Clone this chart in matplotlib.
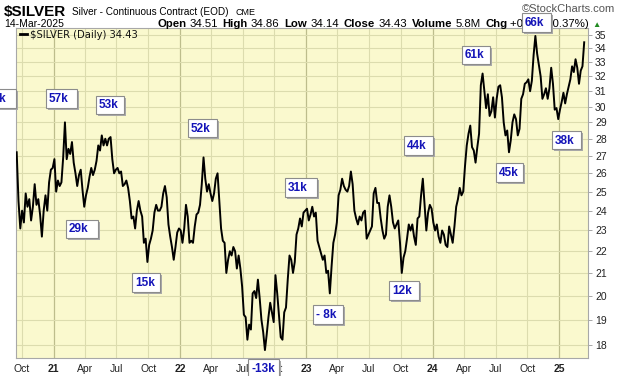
import pandas as pd
import numpy as np
import matplotlib.pyplot as plt
import matplotlib.patches as mpatches
import matplotlib.ticker as mticker
from matplotlib.lines import Line2D

# Silver continuous contract, ~6 readings per month
silver_2020 = [
    27.2, 24.5, 23.1,                      # Sep (2nd half)
    24.0, 23.4, 24.9, 24.2, 24.6, 23.5,    # Oct
    24.2, 25.4, 24.3, 24.6, 23.8, 22.7,    # Nov
    24.0, 24.8, 24.0, 25.5, 26.2, 26.3,    # Dec
]
silver_2021 = [
    26.8, 25.0, 25.6, 25.3, 25.5, 26.9,
    29.0, 26.8, 27.4, 27.1, 27.8, 26.6,
    26.0, 25.3, 25.9, 26.2, 25.1, 24.2,
    24.8, 25.2, 25.8, 26.3, 25.9, 26.2,
    26.7, 27.6, 27.3, 28.2, 27.6, 28.0,
    27.6, 28.0, 28.1, 26.8, 26.0, 26.2,
    26.3, 26.0, 26.1, 25.3, 25.4, 25.6,
    25.2, 24.5, 23.6, 23.7, 23.1, 24.0,
    24.5, 24.0, 23.7, 22.4, 22.6, 21.5,
    22.3, 22.6, 23.0, 23.9, 24.3, 24.0,
    24.0, 24.2, 24.9, 25.3, 24.7, 23.3,
    22.7, 22.2, 21.6, 22.2, 22.9, 23.1,
]
silver_2022 = [
    23.0, 22.4, 23.1, 24.3, 23.7, 22.4,
    22.5, 22.4, 23.2, 23.8, 23.9, 24.3,
    25.4, 26.9, 25.7, 25.0, 25.4, 24.9,
    24.5, 24.9, 25.7, 26.0, 24.5, 23.1,
    22.5, 22.4, 21.0, 21.6, 22.0, 21.8,
    22.2, 22.0, 21.2, 21.8, 21.2, 20.4,
    19.2, 19.1, 18.2, 18.8, 18.6, 20.1,
    20.2, 19.9, 20.7, 19.9, 19.0, 18.5,
    17.8, 18.4, 19.1, 19.7, 19.3, 18.9,
    20.9, 20.1, 19.2, 18.3, 18.2, 19.3,
    19.5, 20.7, 21.8, 21.6, 21.0, 21.5,
    22.8, 23.1, 23.6, 23.2, 23.9, 24.0,
]
silver_2023 = [
    24.1, 23.5, 23.8, 24.2, 23.7, 23.9,
    22.5, 22.2, 21.9, 21.6, 21.8, 21.0,
    21.1, 20.1, 21.3, 22.4, 22.8, 23.4,
    24.8, 25.1, 25.7, 25.3, 25.1, 25.0,
    25.3, 26.1, 25.4, 24.0, 23.6, 23.3,
    23.7, 23.5, 23.9, 24.0, 22.6, 22.8,
    23.0, 23.2, 24.9, 25.2, 24.4, 24.4,
    23.6, 23.0, 22.6, 22.8, 24.2, 24.8,
    24.2, 23.4, 23.1, 23.3, 23.5, 22.4,
    21.0, 21.7, 22.0, 22.6, 23.3, 23.0,
    23.3, 22.7, 22.3, 23.6, 23.7, 24.8,
    25.7, 24.3, 23.0, 23.9, 24.3, 24.1,
]
silver_2024 = [
    23.4, 23.0, 23.3, 22.7, 22.4, 23.0,
    22.8, 22.3, 22.2, 23.2, 22.8, 22.4,
    23.2, 24.2, 24.6, 25.2, 24.8, 25.0,
    26.4, 27.6, 28.3, 28.8, 27.5, 27.3,
    26.6, 27.5, 28.3, 31.4, 32.2, 31.0,
    29.9, 30.8, 29.4, 29.7, 30.6, 29.3,
    30.5, 31.3, 31.4, 30.6, 29.0, 28.2,
    28.5, 27.2, 27.9, 29.0, 29.5, 29.2,
    28.2, 28.6, 30.5, 30.8, 31.5, 31.6,
    31.8, 31.0, 31.7, 33.5, 34.9, 33.6,
    32.8, 32.0, 30.5, 30.8, 31.2, 30.5,
    31.2, 32.6, 31.5, 29.8, 29.9, 29.2,
]
silver_2025 = [
    29.8, 30.3, 30.9, 30.2, 30.8, 31.3,
    31.8, 32.7, 32.3, 33.2, 32.6, 31.5,
    32.4, 32.7, 34.43,                     # Mar (to the 14th)
]

quarter_labels = ['Oct', '21', 'Apr', 'Jul', 'Oct', '22', 'Apr', 'Jul', 'Oct', '23',
                  'Apr', 'Jul', 'Oct', '24', 'Apr', 'Jul', 'Oct', '25']
price_ticks = list(range(18, 36))

note_labels = ['60k', '57k', '53k', '29k', '15k', '52k', '31k', '- 8k', '-13k',
               '12k', '44k', '61k', '45k', '66k', '38k']
# box left, top, width, height in pixels
note_boxes = [(-16, 89, 32, 19), (46, 89, 31, 19), (96, 96, 28, 18), (66, 220, 32, 18),
              (132, 273, 28, 19), (188, 119, 29, 18), (285, 178, 32, 19), (313, 305, 30, 19),
              (248, 359, 31, 18), (389, 281, 30, 19), (404, 136, 29, 19), (462, 46, 28, 18),
              (496, 163, 27, 19), (522, 13, 29, 19), (552, 131, 29, 18)]

# build dates for each year's readings
spans = [(silver_2020, '2020-09-16', '2020-12-29'), (silver_2021, '2021-01-03', '2021-12-29'),
         (silver_2022, '2022-01-03', '2022-12-29'), (silver_2023, '2023-01-03', '2023-12-29'),
         (silver_2024, '2024-01-03', '2024-12-29'), (silver_2025, '2025-01-03', '2025-03-14')]
dates = []
prices = []
for vals, start, end in spans:
    dates.extend(pd.date_range(start, end, periods=len(vals)))
    prices.extend(vals)

W, H = 620, 376
fig = plt.figure(figsize=(W / 100, H / 100), dpi=100)
fig.patch.set_facecolor('white')
plt.rcParams['font.family'] = ['Liberation Sans', 'DejaVu Sans']


def px(x, y):
    return x / W, 1 - y / H


ax = fig.add_axes([16 / W, 1 - 358 / H, (588 - 16) / W, (358 - 28) / H])
ax.set_facecolor('#FAF9CE')

# grid
quarters = pd.date_range('2020-10-01', '2025-01-01', freq='QS')
for q in quarters:
    if q.month == 1:
        ax.axvline(q, color='#BDBD8C', lw=0.9, zorder=1)
    else:
        ax.axvline(q, color='#DCDCAE', lw=0.8, zorder=1)
for p in price_ticks:
    ax.axhline(p, color='#DCDCAE', lw=0.8, zorder=1)

ax.plot(dates, prices, color='black', lw=1.4, zorder=3)

ax.set_yscale('log')
ax.set_ylim(17.5, 35.5)
ax.set_xlim(pd.Timestamp('2020-09-14'), pd.Timestamp('2025-03-25'))
ax.yaxis.tick_right()
ax.yaxis.set_major_locator(mticker.FixedLocator(price_ticks))
ax.yaxis.set_major_formatter(mticker.FixedFormatter([str(p) for p in price_ticks]))
ax.yaxis.set_minor_locator(mticker.NullLocator())
ax.tick_params(axis='y', labelsize=7.5, colors='#222222', length=3, width=0.6, pad=2)
ax.tick_params(axis='y', color='#999999')

ax.set_xticks(quarters)
ax.set_xticklabels(quarter_labels)
ax.tick_params(axis='x', labelsize=7.5, colors='#222222', length=0, pad=4)
for lbl in ax.get_xticklabels():
    if lbl.get_text().isdigit():
        lbl.set_fontweight('bold')

for s in ax.spines.values():
    s.set_color('#A8A8A8')
    s.set_linewidth(0.8)

# legend inside plot
fig.add_artist(Line2D([20 / W, 27 / W], [1 - 34 / H, 1 - 34 / H], color='black', lw=2))
fig.text(*px(30, 37.5), '$SILVER (Daily) 34.43', fontsize=7.2, family='DejaVu Sans',
         color='#111111', va='baseline')

# header
fig.text(*px(4, 16), '$SILVER', fontsize=11, fontweight='bold', va='baseline')
fig.text(*px(72, 15), 'Silver - Continuous Contract (EOD)', fontsize=7.2, va='baseline')
fig.text(*px(236, 15), 'CME', fontsize=6.5, va='baseline')
fig.text(*px(615, 12), '\u00a9StockCharts.com', fontsize=8, color='#555555', ha='right',
         va='baseline')
fig.text(*px(4, 27), '14-Mar-2025', fontsize=7.5, va='baseline')

pieces = [('Open', True), ('34.51', False), ('High', True), ('34.86', False),
          ('Low', True), ('34.14', False), ('Close', True), ('34.43', False),
          ('Volume', True), ('5.8M', False), ('Chg', True), ('+0.13 (+0.37%)', False)]
renderer = fig.canvas.get_renderer()
x = 157
for i, (txt, bold) in enumerate(pieces):
    t = fig.text(*px(x, 27), txt, fontsize=8.2, fontweight='bold' if bold else 'normal',
                 va='baseline')
    w = t.get_window_extent(renderer).width
    x += w + (3 if bold else 5)
fig.text(*px(x - 2, 27), '\u25b2', fontsize=6, color='#228B22', va='baseline')

# annotation boxes
for label, (bx, by, bw, bh) in zip(note_labels, note_boxes):
    shadow = mpatches.Rectangle(((bx + 2) / W, 1 - (by + bh + 2) / H), bw / W, bh / H,
                                transform=fig.transFigure, facecolor='#A9A9A9',
                                edgecolor='none', zorder=5)
    box = mpatches.Rectangle((bx / W, 1 - (by + bh) / H), bw / W, bh / H,
                             transform=fig.transFigure, facecolor='white',
                             edgecolor='#8C8C8C', lw=0.8, zorder=6)
    fig.add_artist(shadow)
    fig.add_artist(box)
    fig.text(*px(bx + 3, by + bh / 2 + 0.5), label, fontsize=8.5, fontweight='bold',
             color='#1414B8', va='center', ha='left', zorder=7)

plt.savefig('out.png', dpi=100)
